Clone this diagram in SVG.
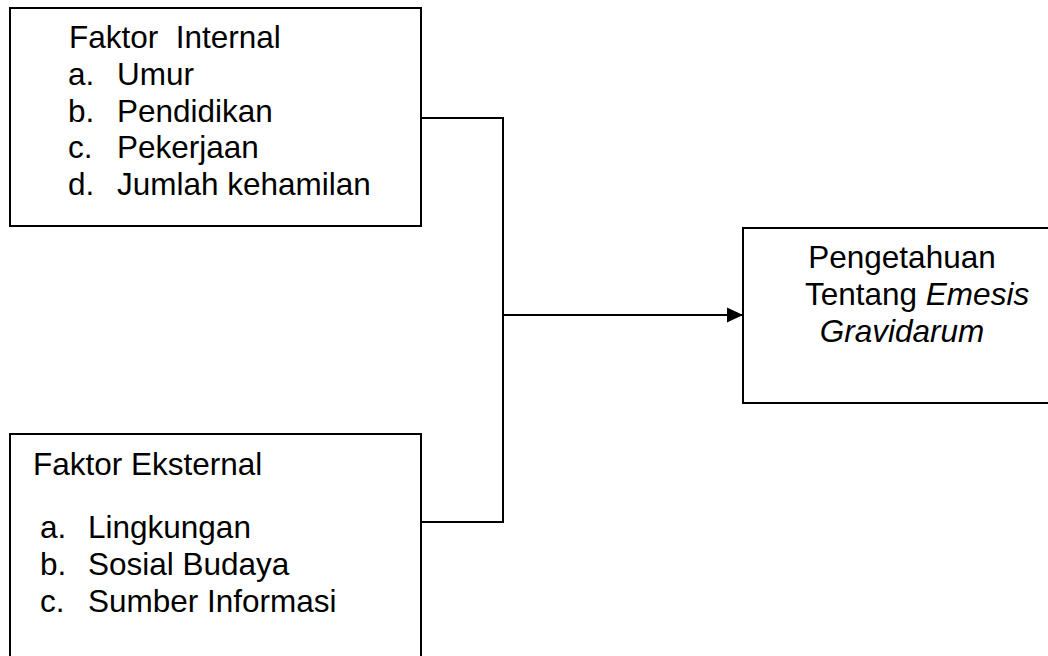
<svg xmlns="http://www.w3.org/2000/svg" width="1048" height="656" viewBox="0 0 1048 656">
<style>
.box{fill:#fff;stroke:#000;stroke-width:2}
.t{font-family:"Liberation Sans",Arial,sans-serif;font-size:31.5px;fill:#000;white-space:pre}
.c{fill:none;stroke:#000;stroke-width:2}
</style>
<defs>
<marker id="ah" markerUnits="userSpaceOnUse" markerWidth="16" markerHeight="16" refX="16" refY="8" orient="auto" viewBox="0 0 16 16">
<path d="M0,0.5 L16,8 L0,15.5 Z" fill="#000"/>
</marker>
</defs>
<rect width="1048" height="656" fill="#fff"/>
<g id="internal">
<rect class="box" x="10" y="8" width="411" height="218"/>
<text class="t" x="69" y="48" xml:space="preserve">Faktor  Internal</text>
<text class="t" x="68" y="85">a.</text><text class="t" x="117" y="85">Umur</text>
<text class="t" x="68" y="122">b.</text><text class="t" x="117" y="122">Pendidikan</text>
<text class="t" x="68" y="158">c.</text><text class="t" x="117" y="158">Pekerjaan</text>
<text class="t" x="68" y="195">d.</text><text class="t" x="117" y="195">Jumlah kehamilan</text>
</g>
<g id="eksternal">
<rect class="box" x="10" y="434" width="411" height="240"/>
<text class="t" x="33" y="475">Faktor Eksternal</text>
<text class="t" x="40" y="538">a.</text><text class="t" x="88" y="538">Lingkungan</text>
<text class="t" x="40" y="575">b.</text><text class="t" x="88" y="575">Sosial Budaya</text>
<text class="t" x="40" y="612">c.</text><text class="t" x="88" y="612">Sumber Informasi</text>
</g>
<g id="pengetahuan">
<rect class="box" x="743" y="228" width="320" height="175"/>
<text class="t" x="902" y="268" text-anchor="middle">Pengetahuan</text>
<text class="t" x="805" y="305">Tentang <tspan font-style="italic">Emesis</tspan></text>
<text class="t" x="902" y="342" text-anchor="middle" font-style="italic">Gravidarum</text>
</g>
<g id="connectors">
<polyline class="c" points="421,118 503,118 503,522 421,522"/>
<line class="c" x1="503" y1="315" x2="743" y2="315" marker-end="url(#ah)"/>
</g>
</svg>
